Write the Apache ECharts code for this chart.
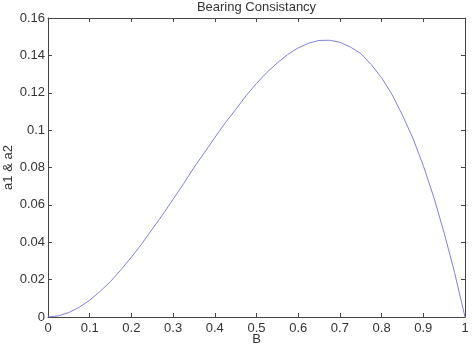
<!DOCTYPE html>
<html><head><meta charset="utf-8">
<script src="https://cdn.jsdelivr.net/npm/echarts@6/dist/echarts.min.js"></script>
<style>html,body{margin:0;padding:0;background:#fff}#c{width:472px;height:350px}</style>
</head><body><div id="c"></div>
<script>
const title = 'Bearing Consistancy';
const xName = 'B';
const yName = 'a1 & a2';
const bValues = [0,0.025,0.05,0.075,0.1,0.125,0.15,0.175,0.2,0.225,0.25,0.275,0.3,0.325,0.35,0.375,0.4,0.425,0.45,0.475,0.5,0.525,0.55,0.575,0.6,0.625,0.65,0.675,0.7,0.725,0.75,0.775,0.8,0.825,0.85,0.875,0.9,0.925,0.95,0.975,1];
const aValues = [0,0.0006,0.0024,0.0052,0.009,0.0137,0.019,0.0253,0.032,0.0392,0.047,0.0548,0.063,0.0713,0.080,0.0879,0.096,0.1039,0.111,0.1184,0.125,0.1309,0.136,0.1405,0.144,0.1465,0.148,0.1481,0.147,0.1445,0.141,0.1351,0.128,0.1191,0.108,0.0957,0.081,0.0642,0.045,0.0238,0];
const font = 'Liberation Sans, Arial, sans-serif';
const axisColor = '#444';
const txt = '#333';
const chart = echarts.init(document.getElementById('c'), null, {renderer:'canvas'});
const common = {
  axisLine:{show:true, onZero:false, lineStyle:{color:axisColor, width:1}},
  axisTick:{show:true, inside:true, length:4, lineStyle:{color:axisColor}},
  splitLine:{show:false}
};
chart.setOption({
  animation:false,
  grid:{left:48, right:7, top:18, bottom:33, containLabel:false, outerBoundsMode:'none'},
  xAxis:[
    Object.assign({type:'value', min:0, max:1, interval:0.1, position:'bottom',
      name:xName, nameLocation:'middle', nameGap:16, nameMoveOverlap:false,
      nameTextStyle:{color:txt, fontFamily:font, fontSize:13},
      axisLabel:{color:txt, fontFamily:font, fontSize:13, margin:5,
        formatter:v=>String(Math.round(v*10)/10)}}, common),
    Object.assign({type:'value', min:0, max:1, interval:0.1, position:'top',
      name:title, nameLocation:'middle', nameGap:4, nameMoveOverlap:false,
      nameTextStyle:{color:txt, fontFamily:font, fontSize:13},
      axisLabel:{show:false}}, common)
  ],
  yAxis:[
    Object.assign({type:'value', min:0, max:0.16, interval:0.02, position:'left',
      name:yName, nameLocation:'middle', nameGap:33, nameMoveOverlap:false,
      nameTextStyle:{color:txt, fontFamily:font, fontSize:13},
      axisLabel:{color:txt, fontFamily:font, fontSize:13, margin:3,
        formatter:v=>String(Math.round(v*100)/100)}}, common),
    Object.assign({type:'value', min:0, max:0.16, interval:0.02, position:'right',
      axisLabel:{show:false}}, common)
  ],
  series:[{
    type:'line', xAxisIndex:0, yAxisIndex:0, smooth:false, symbol:'none',
    lineStyle:{color:'#7f7fe6', width:1},
    data: bValues.map((b,i)=>[b, aValues[i]])
  }]
});
</script></body></html>
